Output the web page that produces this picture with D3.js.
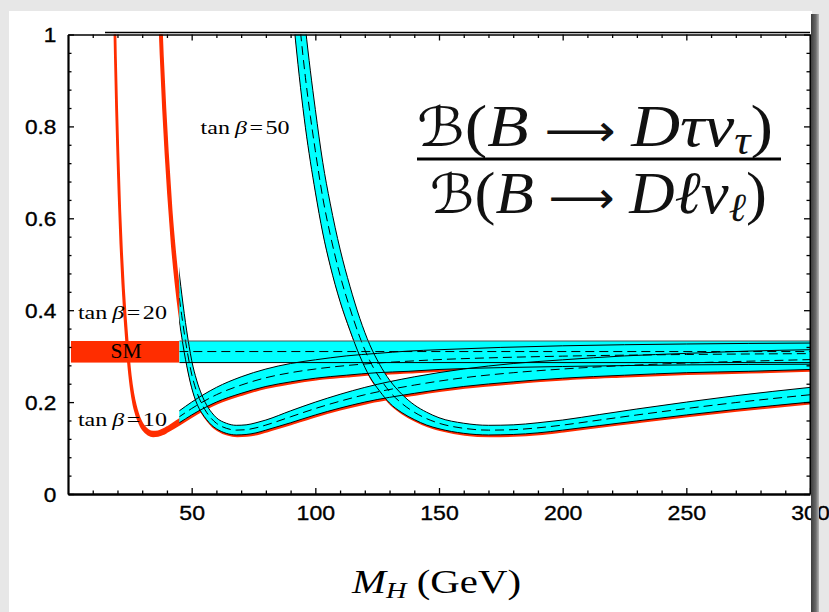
<!DOCTYPE html>
<html>
<head>
<meta charset="utf-8">
<script src="https://cdn.jsdelivr.net/npm/d3@7"></script>
<style>
  html, body { margin: 0; padding: 0; background: #e7e7e7; }
  svg { display: block; }
</style>
</head>
<body>
<svg id="chart" width="829" height="612"></svg>
<script>
// ---- data -------------------------------------------------------------
// Charged-Higgs mass below which the prediction bands are shown in red
const massCutoff = 45;

// Standard Model band: [lower, central, upper]
const smBand = [0.286, 0.310, 0.333];
const smStart = 1.2;

// 2HDM prediction bands, rows are [M_H, lower, central, upper]
const tanBeta10 = [
  [18, 1.098, 1.248, 1.398], [18.5, 0.959, 1.09, 1.221], [19, 0.840, 0.955, 1.070],
  [19.5, 0.742, 0.843, 0.944], [20, 0.657, 0.747, 0.837], [20.75, 0.547, 0.622, 0.697],
  [21.5, 0.464, 0.527, 0.590], [22.25, 0.396, 0.450, 0.504], [23, 0.341, 0.388, 0.435],
  [24, 0.279, 0.317, 0.355], [25, 0.231, 0.261, 0.291], [26, 0.198, 0.223, 0.248],
  [27, 0.177, 0.197, 0.217], [28, 0.162, 0.178, 0.194], [29, 0.150, 0.164, 0.178],
  [30, 0.142, 0.154, 0.166], [32, 0.132, 0.143, 0.154], [34, 0.1285, 0.139, 0.1495],
  [36, 0.1295, 0.140, 0.1505], [38, 0.133, 0.144, 0.155], [40, 0.139, 0.150, 0.161],
  [45, 0.155, 0.168, 0.181], [50, 0.172, 0.186, 0.200], [55, 0.187, 0.202, 0.217],
  [60, 0.200, 0.216, 0.232], [70, 0.219, 0.237, 0.255], [80, 0.234, 0.253, 0.272],
  [90, 0.244, 0.264, 0.284], [100, 0.252, 0.272, 0.292], [112.5, 0.2585, 0.2795, 0.3005],
  [125, 0.264, 0.285, 0.306], [137.5, 0.267, 0.289, 0.311], [150, 0.271, 0.2925, 0.314],
  [175, 0.275, 0.297, 0.319], [200, 0.2775, 0.300, 0.3225], [250, 0.281, 0.3036, 0.3265],
  [300, 0.2825, 0.3055, 0.3285]
];
const tanBeta20 = [
  [36, 1.098, 1.248, 1.398], [37, 0.959, 1.09, 1.221], [38, 0.840, 0.955, 1.070],
  [39, 0.742, 0.843, 0.944], [40, 0.657, 0.747, 0.837], [41.5, 0.547, 0.622, 0.697],
  [43, 0.464, 0.527, 0.590], [44.5, 0.396, 0.450, 0.504], [46, 0.341, 0.388, 0.435],
  [48, 0.279, 0.317, 0.355], [50, 0.231, 0.261, 0.291], [52, 0.198, 0.223, 0.248],
  [54, 0.177, 0.197, 0.217], [56, 0.162, 0.178, 0.194], [58, 0.150, 0.164, 0.178],
  [60, 0.142, 0.154, 0.166], [64, 0.132, 0.143, 0.154], [68, 0.1285, 0.139, 0.1495],
  [72, 0.1295, 0.140, 0.1505], [76, 0.133, 0.144, 0.155], [80, 0.139, 0.150, 0.161],
  [90, 0.155, 0.168, 0.181], [100, 0.172, 0.186, 0.200], [110, 0.187, 0.202, 0.217],
  [120, 0.200, 0.216, 0.232], [140, 0.219, 0.237, 0.255], [160, 0.234, 0.253, 0.272],
  [180, 0.244, 0.264, 0.284], [200, 0.252, 0.272, 0.292], [225, 0.2585, 0.2795, 0.3005],
  [250, 0.264, 0.285, 0.306], [275, 0.267, 0.289, 0.311], [300, 0.271, 0.2925, 0.314]
];
const tanBeta50 = [
  [90, 1.098, 1.248, 1.398], [92, 0.986, 1.12, 1.254], [94, 0.885, 1.006, 1.127],
  [96, 0.797, 0.906, 1.015], [98, 0.723, 0.822, 0.921], [100, 0.657, 0.747, 0.837],
  [103, 0.568, 0.645, 0.722], [106, 0.497, 0.565, 0.633], [110, 0.419, 0.476, 0.533],
  [114, 0.356, 0.404, 0.452], [118, 0.300, 0.341, 0.382], [122, 0.255, 0.290, 0.325],
  [126, 0.224, 0.253, 0.282], [130, 0.198, 0.223, 0.248], [135, 0.177, 0.197, 0.217],
  [140, 0.162, 0.178, 0.194], [145, 0.150, 0.164, 0.178], [150, 0.142, 0.154, 0.166],
  [160, 0.132, 0.143, 0.154], [170, 0.1285, 0.139, 0.1495], [180, 0.1295, 0.140, 0.1505],
  [190, 0.133, 0.144, 0.155], [200, 0.139, 0.150, 0.161], [215, 0.149, 0.161, 0.173],
  [230, 0.159, 0.172, 0.185], [250, 0.172, 0.186, 0.200], [270, 0.184, 0.199, 0.214],
  [300, 0.200, 0.216, 0.232]
];

// axis ticks
const xTicks = [50, 100, 150, 200, 250, 300];
const xTickLabels = ["50", "100", "150", "200", "250", "300"];
const yTicks = [0, 0.2, 0.4, 0.6, 0.8, 1];
const yTickLabels = ["0", "0.2", "0.4", "0.6", "0.8", "1"];

// curve labels: [tan beta value, M_H, ratio]
const curveLabels = [
  ["50", 53.6, 0.783],
  ["20", 4, 0.380],
  ["10", 4, 0.148]
];

// ---- drawing ----------------------------------------------------------
const W = 829, H = 612;
const RED = "#ff2d00", CYAN = "#00ffff";
const serif = "'Liberation Serif', 'DejaVu Serif', serif";
const sans = "'Liberation Sans', Arial, Helvetica, sans-serif";

const svg = d3.select("#chart");
const x = d3.scaleLinear().domain([0, 300]).range([68, 810]);
const y = d3.scaleLinear().domain([0, 1]).range([494, 34.5]);

const defs = svg.append("defs");
defs.append("clipPath").attr("id", "plotClip").append("rect")
  .attr("x", x(0)).attr("y", y(1))
  .attr("width", x(300) - x(0)).attr("height", y(0) - y(1));
defs.append("clipPath").attr("id", "allowedClip").append("rect")
  .attr("x", x(massCutoff)).attr("y", y(1))
  .attr("width", x(300) - x(massCutoff)).attr("height", y(0) - y(1));
const shade = defs.append("linearGradient").attr("id", "edgeShade")
  .attr("x1", 0).attr("x2", 1).attr("y1", 0).attr("y2", 0);
shade.append("stop").attr("offset", 0).attr("stop-color", "#3c3c3c");
shade.append("stop").attr("offset", 0.6).attr("stop-color", "#6a6a6a");
shade.append("stop").attr("offset", 1).attr("stop-color", "#b5b5b5");

// backdrop and white sheet
svg.append("rect").attr("width", W).attr("height", H).attr("fill", "#e7e7e7");
svg.append("rect").attr("x", 9).attr("y", 11).attr("width", 803).attr("height", H - 11)
  .attr("fill", "#ffffff");

const bands = [tanBeta10, tanBeta20, tanBeta50];
const area = (lo, hi) => d3.area()
  .x(d => x(d[0])).y0(d => y(d[lo])).y1(d => y(d[hi]))
  .curve(d3.curveMonotoneX);
const edge = k => d3.line().x(d => x(d[0])).y(d => y(d[k])).curve(d3.curveMonotoneX);

// red (full mass range) bands, nudged so that they peek out under the cyan ones
const gPlot = svg.append("g").attr("clip-path", "url(#plotClip)");
const gRed = gPlot.append("g").attr("transform", "translate(1,1.5)");
bands.forEach(b => gRed.append("path").attr("d", area(1, 2)(b))
  .attr("fill", RED).attr("stroke", RED).attr("stroke-width", 1.6).attr("stroke-linejoin", "round"));
gPlot.append("rect")
  .attr("x", x(smStart)).attr("y", y(smBand[2]))
  .attr("width", x(massCutoff) - x(smStart)).attr("height", y(smBand[0]) - y(smBand[2]))
  .attr("fill", RED);

// cyan bands above the mass cutoff
const smRows = [[massCutoff, ...smBand], [300, ...smBand]];
const gCyan = svg.append("g").attr("clip-path", "url(#allowedClip)");
[...bands, smRows].forEach(b => gCyan.append("path").attr("d", area(1, 3)(b)).attr("fill", CYAN));
[...bands, smRows].forEach((b, i) => {
  gCyan.append("path").attr("d", edge(1)(b)).attr("fill", "none")
    .attr("stroke", "#000").attr("stroke-width", 1);
  gCyan.append("path").attr("d", edge(3)(b)).attr("fill", "none")
    .attr("stroke", i === 3 ? "#555" : "#000").attr("stroke-width", 1);
  gCyan.append("path").attr("d", edge(2)(b)).attr("fill", "none")
    .attr("stroke", "#000").attr("stroke-width", 1).attr("stroke-dasharray", "9,5");
});

// ---- axes (ticks point inwards on every side) --------------------------
const minorX = d3.range(10, 300, 10).filter(v => v % 50 !== 0);
const minorY = d3.range(1, 25).map(i => i * 0.04).filter(v => Math.abs(v * 5 - Math.round(v * 5)) > 1e-6);

function styleAxis(g, width) {
  g.select(".domain").attr("stroke", "#000").attr("stroke-width", width);
  g.selectAll(".tick line").attr("stroke", "#000").attr("stroke-width", 1.3);
}

const gBottom = svg.append("g").attr("transform", `translate(0,${y(0)})`);
gBottom.append("g").call(d3.axisBottom(x).tickValues(minorX).tickFormat("").tickSize(-3.5).tickSizeOuter(0))
  .call(g => styleAxis(g, 0));
gBottom.append("g").call(d3.axisBottom(x).tickValues(xTicks)
    .tickFormat((d, i) => xTickLabels[i]).tickSize(-6).tickSizeOuter(0).tickPadding(0))
  .call(g => styleAxis(g, 2.5))
  .call(g => g.selectAll(".tick text")
    .attr("y", 26).attr("dy", null)
    .attr("font-family", sans).attr("font-size", 21).attr("fill", "#000")
    .attr("stroke", "#000").attr("stroke-width", 0.35)
    .attr("transform", "scale(1.1,1)"));

const gLeft = svg.append("g").attr("transform", `translate(${x(0)},0)`);
gLeft.append("g").call(d3.axisLeft(y).tickValues(minorY).tickFormat("").tickSize(-3.5).tickSizeOuter(0))
  .call(g => styleAxis(g, 0));
gLeft.append("g").call(d3.axisLeft(y).tickValues(yTicks)
    .tickFormat((d, i) => yTickLabels[i]).tickSize(-6).tickSizeOuter(0).tickPadding(0))
  .call(g => styleAxis(g, 2.2))
  .call(g => g.selectAll(".tick text")
    .attr("x", -10).attr("dy", "0.36em")
    .attr("font-family", sans).attr("font-size", 19.5).attr("fill", "#000")
    .attr("stroke", "#000").attr("stroke-width", 0.35)
    .attr("transform", "scale(1.16,1)"));

const gTop = svg.append("g").attr("transform", `translate(0,${y(1)})`);
gTop.append("g").call(d3.axisTop(x).tickValues(minorX).tickFormat("").tickSize(-3.5).tickSizeOuter(0))
  .call(g => styleAxis(g, 0));
gTop.append("g").call(d3.axisTop(x).tickValues(xTicks).tickFormat("").tickSize(-6).tickSizeOuter(0))
  .call(g => styleAxis(g, 1.6));
svg.append("line").attr("x1", 105).attr("x2", x(300)).attr("y1", y(1) - 2).attr("y2", y(1) - 2)
  .attr("stroke", "#000").attr("stroke-width", 1.3);

const gRight = svg.append("g").attr("transform", `translate(${x(300)},0)`);
gRight.append("g").call(d3.axisRight(y).tickValues(minorY).tickFormat("").tickSize(-3.5).tickSizeOuter(0))
  .call(g => styleAxis(g, 0));
gRight.append("g").call(d3.axisRight(y).tickValues(yTicks).tickFormat("").tickSize(-6).tickSizeOuter(0))
  .call(g => styleAxis(g, 2));

// ---- in-plot labels -----------------------------------------------------
curveLabels.forEach(([val, m, r]) => {
  const t = svg.append("text").attr("x", x(m)).attr("y", y(r))
    .attr("font-family", serif).attr("font-size", 19).attr("fill", "#000")
    .attr("textLength", 89).attr("lengthAdjust", "spacingAndGlyphs");
  t.append("tspan").text("tan");
  t.append("tspan").attr("dx", 4).attr("font-style", "italic").text("β");
  t.append("tspan").attr("dx", 2).text("=");
  t.append("tspan").attr("dx", 2).text(val);
});

svg.append("text").attr("x", (x(smStart) + x(massCutoff)) / 2 + 1).attr("y", 358.3)
  .attr("text-anchor", "middle").attr("font-family", serif).attr("font-size", 21.5)
  .attr("fill", "#000").text("SM");

// ratio of branching fractions
function ratioLine(yBase, xStart, len, lepton) {
  const t = svg.append("text").attr("x", xStart).attr("y", yBase)
    .attr("font-family", serif).attr("font-size", 60).attr("fill", "#111")
    .attr("textLength", len).attr("lengthAdjust", "spacingAndGlyphs");
  t.append("tspan").attr("font-family", "'DejaVu Sans', sans-serif").attr("font-size", 54).text("ℬ");
  t.append("tspan").text("(");
  t.append("tspan").attr("font-style", "italic").text("B");
  t.append("tspan").attr("font-family", "'DejaVu Sans', sans-serif").attr("font-size", 44).text(" ⟶ ");
  t.append("tspan").attr("font-style", "italic").text("D" + lepton + "ν");
  t.append("tspan").attr("font-style", "italic").attr("font-size", 40).attr("dy", 8).text(lepton);
  t.append("tspan").attr("dy", -8).text(")");
}
ratioLine(146, 417, 356, "τ");
ratioLine(213, 430, 337, "ℓ");
svg.append("line").attr("x1", 417).attr("x2", 781).attr("y1", 159).attr("y2", 159)
  .attr("stroke", "#000").attr("stroke-width", 3);

// axis title
const xt = svg.append("text").attr("x", 352).attr("y", 593)
  .attr("font-family", serif).attr("font-size", 33).attr("fill", "#000")
  .attr("textLength", 169).attr("lengthAdjust", "spacingAndGlyphs");
xt.append("tspan").attr("font-style", "italic").text("M");
xt.append("tspan").attr("font-style", "italic").attr("font-size", 23).attr("dy", 5).text("H");
xt.append("tspan").attr("dy", -5).text(" (GeV)");

// right-hand shadow of the sheet, lying over the last tick label
svg.append("rect").attr("x", 811).attr("y", 14).attr("width", 8).attr("height", H - 14)
  .attr("fill", "url(#edgeShade)");
</script>
</body>
</html>
